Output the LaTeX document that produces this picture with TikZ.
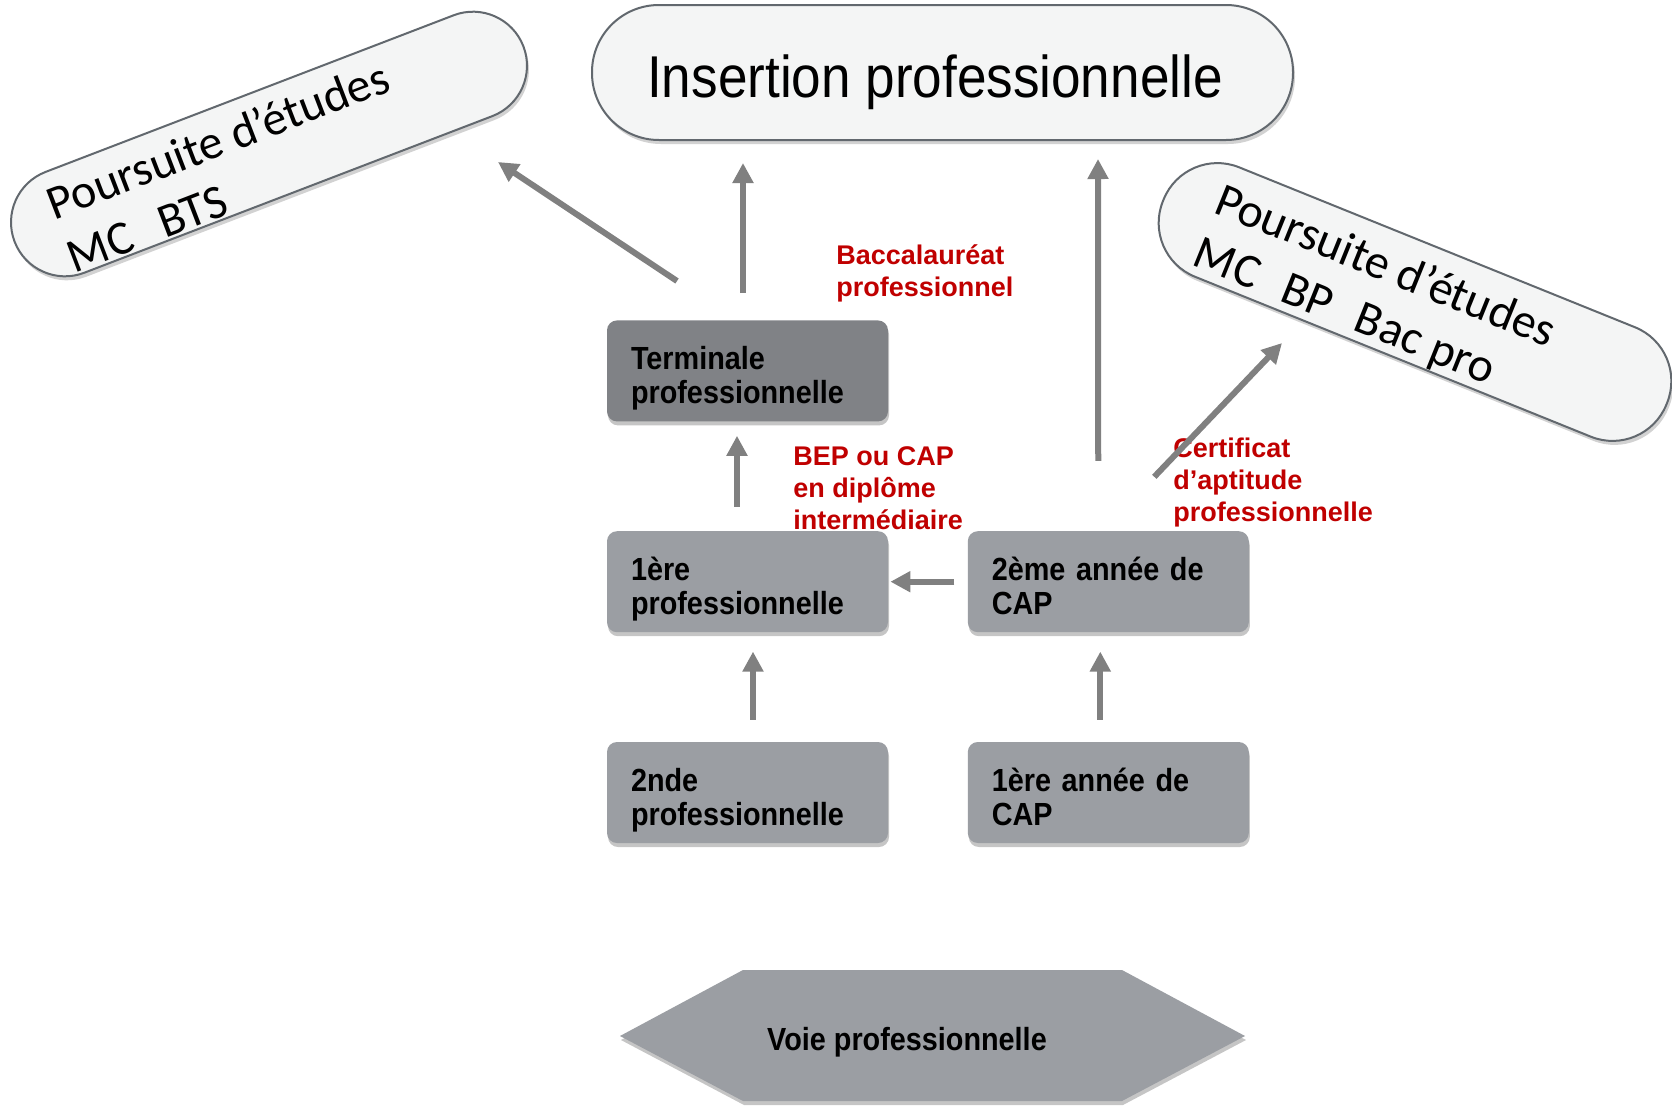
\documentclass[tikz,border=0pt]{standalone}
\usepackage{fontspec}
\setmainfont{Liberation Sans}
\newfontfamily\boxfont[FakeStretch=0.9]{Liberation Sans}
\newfontfamily\pillfont{Carlito}
\usetikzlibrary{arrows.meta, positioning, shadows}

\definecolor{boxgray}{RGB}{155,158,163}
\definecolor{boxdark}{RGB}{128,130,134}
\definecolor{pillfill}{RGB}{244,245,245}
\definecolor{pilledge}{RGB}{98,104,110}
\definecolor{arrowgray}{RGB}{128,128,128}
\definecolor{labelred}{RGB}{192,0,0}

\begin{document}
\begin{tikzpicture}[
    x=0.5pt, y=0.5pt,
    stage/.style={
        rectangle,
        rounded corners=5pt,
        fill=boxgray,
        drop shadow={shadow xshift=0.5pt, shadow yshift=-2pt, opacity=0.45},
        text width=116.5pt,
        text height=19pt,
        text depth=20.4pt,
        inner xsep=12pt,
        inner ysep=0pt,
        minimum height=50.5pt,
        align=left,
        font=\boxfont\bfseries\fontsize{16}{17}\selectfont,
    },
    pill/.style={
        rectangle,
        rounded corners=27pt,
        fill=pillfill,
        draw=pilledge,
        line width=1pt,
        drop shadow={shadow xshift=1pt, shadow yshift=-2pt, opacity=0.35},
    },
    pilltext/.style={
        font=\pillfont\fontsize{24}{28.5}\selectfont,
        align=left,
        anchor=west,
        inner sep=0pt,
    },
    note/.style={
        font=\bfseries\fontsize{13.5}{16}\selectfont,
        text=labelred,
        align=left,
        anchor=west,
        inner sep=0pt,
    },
    flow/.style={
        draw=arrowgray,
        line width=3pt,
        -{Triangle[width=10pt,length=10pt]},
    }
]
    \useasboundingbox (0,0) rectangle (1672,-1109);
    \fill[white] (0,0) rectangle (1672,-1109);

    % Outcomes
    \node[pill, rounded corners=33.5pt, minimum width=350.5pt, minimum height=67.5pt] (ins) at (942.5,-72.5) {};
    \node[font=\boxfont\fontsize{29.5}{34}\selectfont, anchor=base] (instxt) at (935,-97) {Insertion professionnelle};
    \begin{scope}[shift={(269,-144)}, rotate=21, transform shape]
        \node[pill, minimum width=272.5pt, minimum height=54pt] (pleft) at (0,0) {};
        \node[pilltext] (pleftxt) at (-228,-6) {Poursuite d’études\\MC\hspace{15pt}BTS};
    \end{scope}
    \begin{scope}[shift={(1415,-302)}, rotate=-22, transform shape]
        \node[pill, rounded corners=29pt, minimum width=271.5pt, minimum height=59pt] (pright) at (0,0) {};
        \node[pilltext] (prightxt) at (-222,-8) {Poursuite d’études\\MC\hspace{14pt}BP\hspace{14pt}Bac pro};
    \end{scope}

    % School years
    \node[stage] (snd) at (747.5,-792.5) {2nde\\professionnelle};
    \node[stage, above=54.5pt of snd] (prem) {1ère\\professionnelle};
    \node[stage, above=54.5pt of prem, fill=boxdark] (term) {Terminale\\professionnelle};
    \node[stage, right=39.5pt of snd] (capun) {1ère année de\\CAP};
    \node[stage, above=54.5pt of capun] (capdeux) {2ème année de\\CAP};

    % Track
    \fill[boxgray, drop shadow={shadow xshift=0.5pt, shadow yshift=-2pt, opacity=0.45}]
        (620,-1036) -- (743,-970) -- (1122,-970) -- (1245,-1036) -- (1122,-1101) -- (743,-1101) -- cycle;
    \node[font=\boxfont\bfseries\fontsize{16}{17}\selectfont] (voie) at (907,-1042) {Voie professionnelle};

    % Diplomas
    \node[note] (bac) at (836,-273) {Baccalauréat\\professionnel};
    \node[note] (bep) at (793,-488) {BEP ou CAP\\en diplôme\\intermédiaire};
    \node[note] (cert) at (1173,-483) {Certificat\\d’aptitude\\professionnelle};

    % Paths
    \draw[flow, shorten <=11pt, shorten >=9.5pt] ([xshift=2.75pt]snd.north) -- ([xshift=2.75pt]prem.south);
    \draw[flow, shorten <=11pt, shorten >=9.5pt] ([xshift=-4pt]capun.north) -- ([xshift=-4pt]capdeux.south);
    \draw[flow, shorten <=12pt, shorten >=7pt] ([xshift=-5.25pt]prem.north) -- ([xshift=-5.25pt]term.south);
    \draw[flow, shorten <=6.5pt, shorten >=1pt] (capdeux.west) -- (prem.east);
    \draw[flow, shorten <=13.5pt, shorten >=11pt] ([xshift=-2.25pt]term.north) -- ([xshift=-99.75pt]ins.south);
    \draw[flow, shorten <=35pt, shorten >=9pt] ([xshift=-5pt]capdeux.north) -- ([xshift=77.75pt]ins.south);
    \draw[flow] ([xshift=-35.25pt, yshift=19.5pt]term.north) -- ([xshift=114.5pt, yshift=-9pt]pleft.center);
    \draw[flow] ([xshift=23pt, yshift=27pt]capdeux.north) -- ([xshift=-66.5pt, yshift=-20.5pt]pright.center);
\end{tikzpicture}
\end{document}
